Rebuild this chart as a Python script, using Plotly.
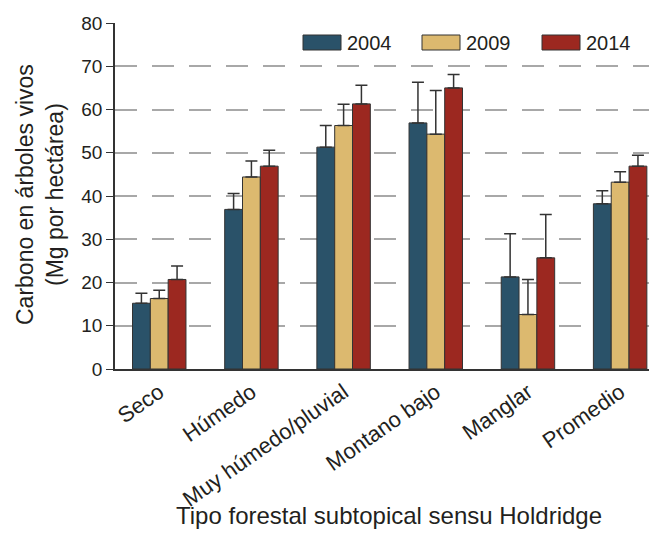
import plotly.graph_objects as go

categories = ["Seco", "Húmedo", "Muy húmedo/pluvial", "Montano bajo", "Manglar", "Promedio"]
years = ["2004", "2009", "2014"]
values_2004 = [15.2, 36.9, 51.3, 56.9, 21.3, 38.2]
values_2009 = [16.3, 44.4, 56.3, 54.3, 12.6, 43.2]
values_2014 = [20.7, 46.9, 61.3, 65.0, 25.7, 46.9]
upper_2004 = [17.5, 40.6, 56.3, 66.3, 31.3, 41.2]
upper_2009 = [18.2, 48.1, 61.2, 64.4, 20.7, 45.6]
upper_2014 = [23.8, 50.6, 65.6, 68.1, 35.7, 49.4]
colors = ["#2a5269", "#dcb96f", "#9c2820"]

series = [(values_2004, upper_2004), (values_2009, upper_2009), (values_2014, upper_2014)]
FONT = "Liberation Sans, Arial, Helvetica, sans-serif"
TXT = "#231f20"

# page has an 8px body margin; plot area target: x 115..657, y 23..369
PL, PT, PW, PH = 115, 23, 542, 346
def px(x):
    return (x - PL) / PW
def py(y):
    return (PT + PH - y) / PH

fig = go.Figure()
for yr, (vals, ups), col in zip(years, series, colors):
    fig.add_trace(go.Bar(
        x=categories, y=vals, name=yr,
        marker=dict(color=col, line=dict(color="#333333", width=1)),
        error_y=dict(type="data", symmetric=False,
                     array=[u - v for u, v in zip(ups, vals)],
                     arrayminus=[0] * len(vals),
                     color="#333333", thickness=1.5, width=6),
        showlegend=False,
    ))

# custom legend (wide swatches)
leg_x = [303, 422, 542]
for yr, col, lx in zip(years, colors, leg_x):
    fig.add_shape(type="rect", xref="paper", yref="paper",
                  x0=px(lx), x1=px(lx + 38), y0=py(50), y1=py(35),
                  fillcolor=col, line=dict(color="#333333", width=1))
    fig.add_annotation(xref="paper", yref="paper",
                       x=px(lx + 42), y=py(43),
                       xanchor="left", yanchor="middle", showarrow=False,
                       text=yr, font=dict(family=FONT, size=20, color=TXT))

# axis titles
fig.add_annotation(xref="paper", yref="paper", x=px(389), y=py(515),
                   xanchor="center", yanchor="middle", showarrow=False,
                   text="Tipo forestal subtopical sensu Holdridge",
                   font=dict(family=FONT, size=24, color=TXT))
fig.add_annotation(xref="paper", yref="paper", x=px(40), y=py(195),
                   xanchor="center", yanchor="middle", showarrow=False,
                   textangle=-90,
                   text="Carbono en árboles vivos<br>(Mg por hectárea)",
                   font=dict(family=FONT, size=23, color=TXT))

fig.update_layout(
    width=649, height=525,
    margin=dict(l=107, r=0, t=15, b=164, pad=0),
    plot_bgcolor="white", paper_bgcolor="white",
    barmode="group", bargap=0.42, bargroupgap=0,
    font=dict(family=FONT, size=19, color=TXT),
)
fig.update_xaxes(
    range=[-0.48, 5.4], showline=True, linecolor="#333333", linewidth=1.5,
    ticks="", tickangle=-35, tickfont=dict(size=22, color=TXT),
    automargin=False,
)
fig.update_yaxes(
    range=[0, 80], dtick=10, showline=True, linecolor="#333333", linewidth=1.5,
    ticks="outside", ticklen=7, tickcolor="#333333", tickwidth=1.2,
    tickfont=dict(size=19, color=TXT),
    showgrid=True, gridcolor="#a8a8a8", gridwidth=1.5, griddash="22px,15px",
    zeroline=False,
    automargin=False,
)
fig.write_html("out.html")
